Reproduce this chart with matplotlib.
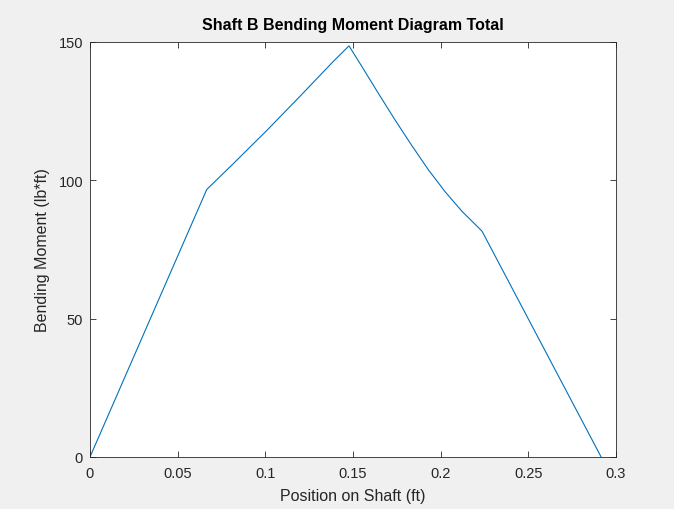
import matplotlib.pyplot as plt
import numpy as np

# position along shaft (ft) and total bending moment (lb*ft)
pos = [0.0, 0.0666, 0.0817, 0.1008, 0.1198, 0.1388, 0.1477,
       0.1550, 0.1644, 0.1740, 0.1835, 0.1930, 0.2025, 0.2120,
       0.2236, 0.2915]
moment = [0.0, 96.7, 106.0, 118.0, 130.4, 143.0, 148.6,
          141.2, 131.5, 121.8, 112.6, 103.8, 95.9, 88.9,
          81.6, 0.0]

xticks = [0, 0.05, 0.1, 0.15, 0.2, 0.25, 0.3]
xticklabels = ['0', '0.05', '0.1', '0.15', '0.2', '0.25', '0.3']
yticks = [0, 50, 100, 150]

plt.rcParams['font.family'] = ['Liberation Sans', 'DejaVu Sans']

fig = plt.figure(figsize=(6.74, 5.10), dpi=100, facecolor='#f0f0f0')
ax = fig.add_axes([0.1335, 0.102, 0.7805, 0.8137])

ax.plot(pos, moment, color='#0072BD', lw=0.8)

ax.set_xlim(0, 0.3)
ax.set_ylim(0, 150)
ax.set_xticks(xticks)
ax.set_xticklabels(xticklabels)
ax.set_yticks(yticks)

for s in ax.spines.values():
    s.set_color('#262626')
    s.set_linewidth(0.6)
ax.tick_params(direction='in', length=4, width=0.6, color='#262626',
               labelcolor='#262626', labelsize=10.5, top=True, right=True)
ax.tick_params(axis='x', pad=6.5)
ax.tick_params(axis='y', pad=5)

ax.set_title('Shaft B Bending Moment Diagram Total', fontsize=11.5,
             fontweight='bold', color='black', pad=9.5)
ax.set_xlabel('Position on Shaft (ft)', fontsize=11.5, color='#262626', labelpad=5.5)
ax.set_ylabel('Bending Moment (lb*ft)', fontsize=11.5, color='#262626', labelpad=6)

fig.savefig('out.png', dpi=100, facecolor=fig.get_facecolor())
plt.close()
